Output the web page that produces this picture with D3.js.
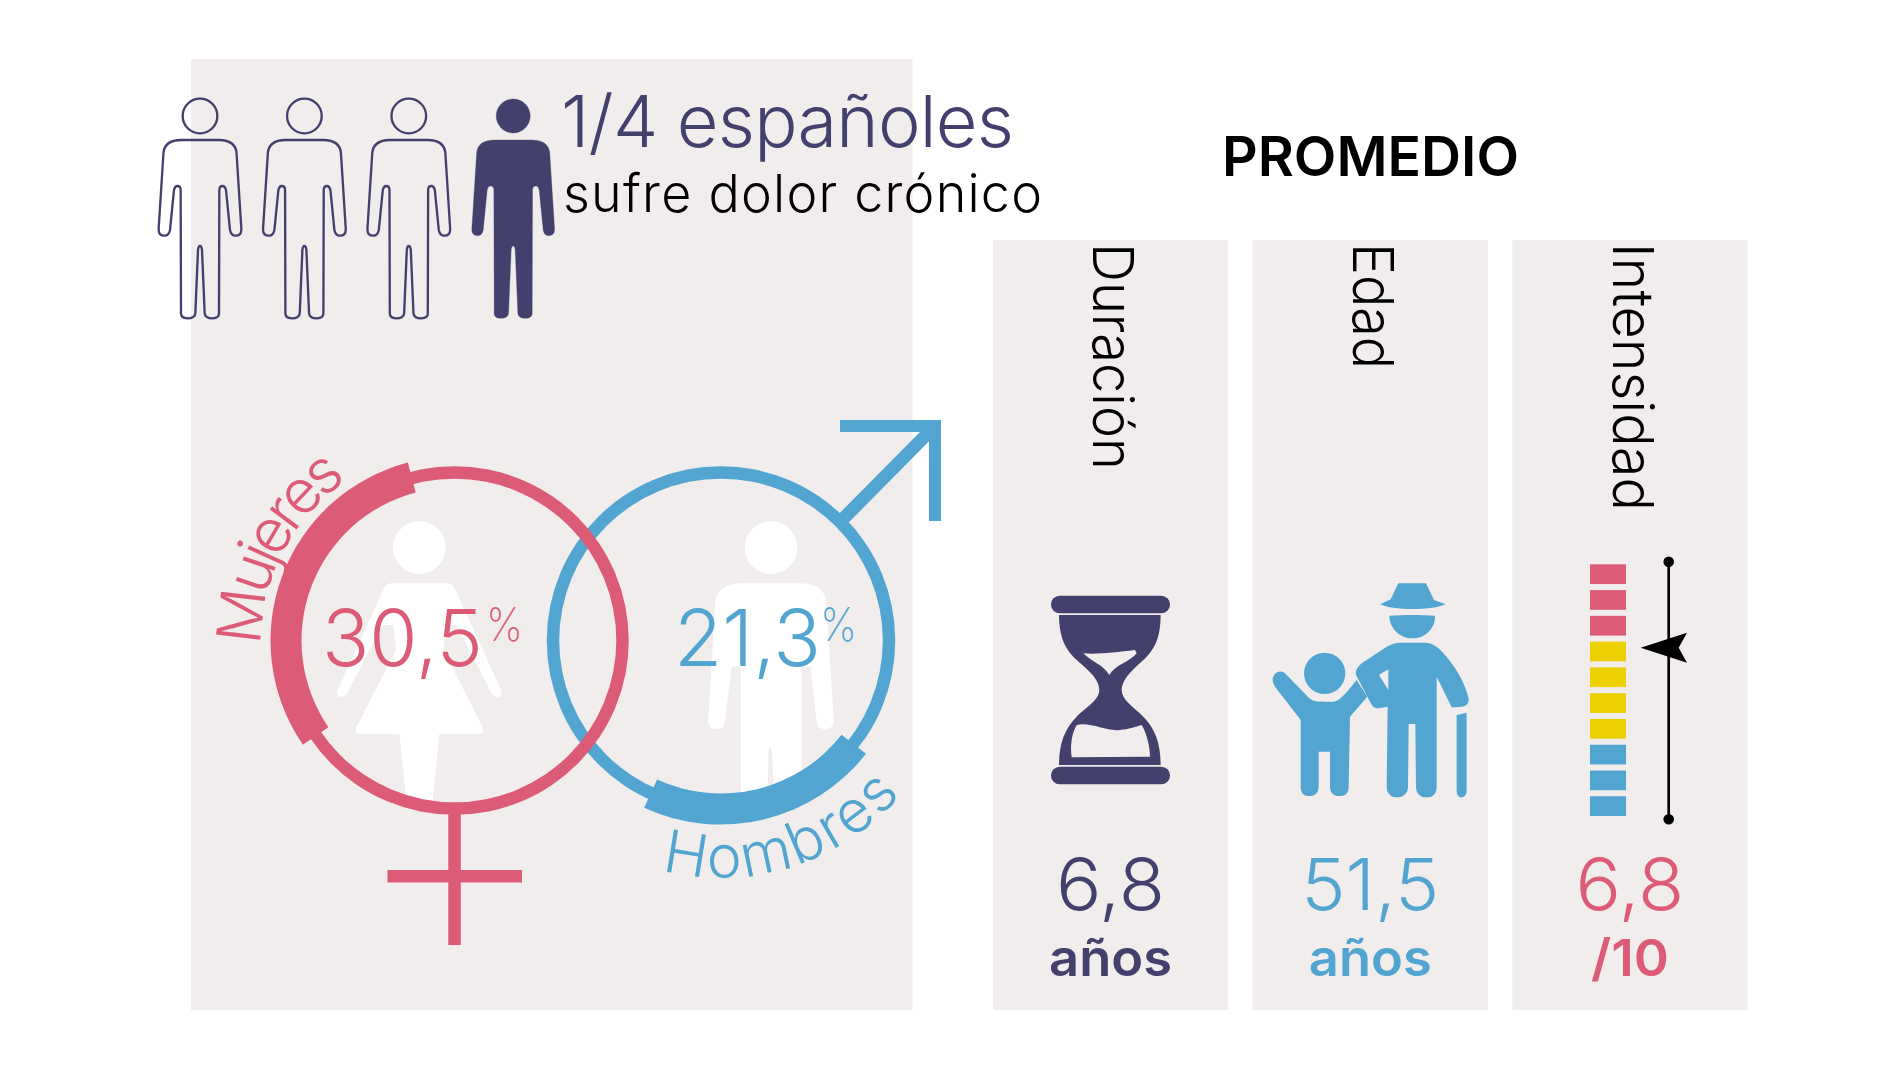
<!DOCTYPE html>
<html><head><meta charset="utf-8">
<script src="https://d3js.org/d3.v7.min.js"></script>
<style>html,body{margin:0;padding:0;background:#fff}svg{display:block}text{font-family:Inter,"Liberation Sans",sans-serif}</style>
</head><body><svg id="c" width="1900" height="1069"></svg>
<script>
// ---- data ----
const people = [1,2,3,4];
const affectedPeople = [4];
const headline = "1/4 españoles";
const subhead = "sufre dolor crónico";
const genderLabels = ["Mujeres","Hombres"];
const genderShares = [30.5,21.3];
const averageTitle = "PROMEDIO";
const averageCategories = ["Duración","Edad","Intensidad"];
const averageValues = [6.8,51.5,6.8];
const averageUnits = ["años","años","/10"];
const intensityLevels = [10,9,8,7,6,5,4,3,2,1];
const intensityThresholds = [4,8];

// ---- style ----
const INK="#44406e", PINK="#dc5c78", BLUE="#52a5d0", YELLOW="#ecd000", PANEL="#f0edec";
const fmt = v => String(v).replace(".",",");
const svg = d3.select("#c");

// ---- panels ----
svg.append("rect").attr("x",191).attr("y",59).attr("width",721.5).attr("height",951).attr("fill",PANEL);
const xPanel = d3.scaleBand().domain(averageCategories).range([993,1747.5]).paddingInner(0.0945);
const inkOf = d3.scaleOrdinal().domain(averageCategories).range([INK,BLUE,PINK]);
svg.selectAll("rect.p").data(averageCategories).join("rect").attr("class","p")
  .attr("x",d=>xPanel(d)).attr("y",240).attr("width",xPanel.bandwidth()).attr("height",770).attr("fill",PANEL);

// ---- people ----
const PERSON="M0,150 L55,150 C85,150 110,160 110,195 L124,415 C125,432 118,437 106,437 C96,437 92,430 90,420 L78,300 C76,292 73,288 68,288 C62,288 58,292 58,300 L57,670 C57,680 50,685 38,685 C22,685 15,680 14,670 L6,480 C5,472 3,468 0,468 C-3,468 -5,472 -6,480 L-14,670 C-15,680 -22,685 -38,685 C-50,685 -57,680 -57,670 L-58,300 C-58,292 -62,288 -68,288 C-73,288 -76,292 -78,300 L-90,420 C-92,430 -96,437 -106,437 C-118,437 -125,432 -124,415 L-110,195 C-110,160 -85,150 -55,150 Z";
const xPerson = d3.scalePoint().domain(people).range([200,513.2]);
const pg = svg.selectAll("g.person").data(people).join("g").attr("class","person")
  .attr("transform",d=>`translate(${xPerson(d)},90) scale(0.3333)`)
  .attr("fill",d=>affectedPeople.includes(d)?INK:"none")
  .attr("stroke",INK).attr("stroke-width",d=>affectedPeople.includes(d)?1:7);
pg.append("circle").attr("cy",78).attr("r",d=>affectedPeople.includes(d)?51:52);
pg.append("path").attr("d",PERSON);

svg.append("text").attr("x",561).attr("y",147).attr("font-size",72).attr("font-weight",300).attr("fill",INK)
  .attr("textLength",453).text(headline);
svg.append("text").attr("x",563).attr("y",212).attr("font-size",52).attr("font-weight",300).attr("fill","#000")
  .attr("textLength",479).text(subhead);

// ---- gender symbols ----
const cy=640.5, cx=[454.5,721], rMid=168, thin=12.5, thick=31;
const startDeg=[-124.5,128];
const toRad=d3.scaleLinear().domain([0,360]).range([0,2*Math.PI]);
const share=d3.scaleLinear().domain([0,100]).range([0,2*Math.PI]);
const defs=svg.append("defs");
cx.forEach((x,i)=>defs.append("clipPath").attr("id","clip"+i).append("circle").attr("cx",x).attr("cy",cy).attr("r",rMid));

// white figures
const FEMALE="M245,220 L415,220 Q428,220 434,234 L574,542 Q580,560 562,561 Q552,561 545,550 L440,345 L408,345 L400,420 L518,652 Q524,672 505,672 L388,672 L365,900 L292,900 L268,672 L152,672 Q133,672 139,652 L258,420 L250,345 L218,345 L110,552 Q104,561 94,561 Q76,560 82,542 L222,234 Q230,220 245,220 Z";
const MALE="M150,220 L335,220 C385,222 408,245 410,285 L431,630 C432,650 422,657 405,657 C390,657 382,650 380,632 L362,470 L335,470 L335,880 L255,880 L245,720 Q241,700 236,720 L232,880 L152,880 L152,470 L125,470 L105,632 C103,650 95,657 80,657 C63,657 53,650 55,630 L75,285 C77,245 100,222 150,220 Z";
const figOrigin=[[310,510],[690,510]], figPath=[FEMALE,MALE], figHead=[[328,113],[243,113]];
[0,1].forEach(i=>{
  const g=svg.append("g").attr("clip-path",`url(#clip${i})`).append("g")
    .attr("transform",`translate(${figOrigin[i][0]},${figOrigin[i][1]}) scale(0.3333)`).attr("fill","#fff");
  g.append("circle").attr("cx",figHead[i][0]).attr("cy",figHead[i][1]).attr("r",79);
  g.append("path").attr("d",figPath[i]);
});

// male arrow + female cross (drawn under rings)
svg.append("path").attr("d","M844,518 L934,427").attr("stroke",BLUE).attr("stroke-width",13).attr("fill","none");
svg.append("path").attr("d","M840,420 H941 V521 H929 V432 H840 Z").attr("fill",BLUE);
svg.append("rect").attr("x",448.3).attr("y",812).attr("width",12.5).attr("height",133).attr("fill",PINK);
svg.append("rect").attr("x",387.5).attr("y",870).attr("width",134.5).attr("height",12.5).attr("fill",PINK);

// rings and share arcs, blue below pink
const ringArc=d3.arc().innerRadius(rMid-thin/2).outerRadius(rMid+thin/2);
const shareArc=d3.arc().innerRadius(rMid-thick/2+.5).outerRadius(rMid+thick/2+.5);
const colors=[PINK,BLUE];
[1,0].forEach(i=>{
  const g=svg.append("g").attr("transform",`translate(${cx[i]},${cy})`).attr("fill",colors[i]);
  g.append("path").attr("d",ringArc({startAngle:0,endAngle:2*Math.PI}));
  const a0=toRad(startDeg[i]);
  g.append("path").attr("d",shareArc({startAngle:a0,endAngle:a0+share(genderShares[i])}));
});

// share numbers
const shareX=[[322,161],[674,147]], pctX=[486,820];
genderShares.forEach((v,i)=>{
  svg.append("text").attr("x",shareX[i][0]).attr("y",666).attr("font-size",79).attr("font-weight",300)
    .attr("fill",colors[i]).attr("textLength",shareX[i][1]).attr("lengthAdjust","spacingAndGlyphs").text(fmt(v));
  svg.append("text").attr("x",pctX[i]).attr("y",641).attr("font-size",46).attr("font-weight",200)
    .attr("fill",colors[i]).attr("textLength",37).attr("lengthAdjust","spacingAndGlyphs").text("%");
});

// curved labels
function polar(c,r,deg){const a=toRad(deg);return [c+r*Math.sin(a),cy-r*Math.cos(a)];}
function arcD(c,r,a0,a1,sweep){const p=polar(c,r,a0),q=polar(c,r,a1);return `M${p[0]},${p[1]} A${r},${r} 0 0 ${sweep} ${q[0]},${q[1]}`;}
defs.append("path").attr("id","pM").attr("d",arcD(cx[0],193,-91.5,-20,1));
defs.append("path").attr("id","pH").attr("d",arcD(cx[1],237,194.5,110,0));
const labelLen=[195,264], labelSize=[61,59];
["#pM","#pH"].forEach((h,i)=>{
  svg.append("text").attr("font-size",labelSize[i]).attr("font-weight",300).attr("fill",colors[i])
    .append("textPath").attr("href",h).attr("textLength",labelLen[i]).attr("lengthAdjust","spacing").text(genderLabels[i]);
});

// ---- PROMEDIO ----
svg.append("text").attr("x",1222).attr("y",176).attr("font-size",55).attr("font-weight",600).attr("fill","#000")
  .attr("textLength",297).attr("lengthAdjust","spacingAndGlyphs").text(averageTitle);
const catLen=[227,126,268], catShift=[99.5,100.5,100.5];
svg.selectAll("text.cat").data(averageCategories).join("text").attr("class","cat")
  .attr("transform",(d,i)=>`translate(${xPanel(d)+catShift[i]},243) rotate(90)`)
  .attr("font-size",56).attr("font-weight",300).attr("fill","#000")
  .attr("textLength",(d,i)=>catLen[i]).attr("lengthAdjust","spacingAndGlyphs").text(d=>d);

// values and units
const valLen=[109,138,109];
svg.selectAll("text.val").data(averageValues).join("text").attr("class","val")
  .attr("x",(d,i)=>xPanel(averageCategories[i])+xPanel.bandwidth()/2).attr("y",910)
  .attr("text-anchor","middle").attr("font-size",72).attr("font-weight",300)
  .attr("fill",(d,i)=>inkOf(averageCategories[i])).attr("textLength",(d,i)=>valLen[i]).attr("lengthAdjust","spacingAndGlyphs").text(fmt);
const unitLen=[123,123,78];
svg.selectAll("text.unit").data(averageUnits).join("text").attr("class","unit")
  .attr("x",(d,i)=>xPanel(averageCategories[i])+xPanel.bandwidth()/2).attr("y",976)
  .attr("text-anchor","middle").attr("font-size",51).attr("font-weight",600)
  .attr("fill",(d,i)=>inkOf(averageCategories[i])).attr("textLength",(d,i)=>unitLen[i]).attr("lengthAdjust","spacingAndGlyphs").text(d=>d);

// ---- hourglass ----
const hg=svg.append("g").attr("transform","translate(1040,590) scale(0.3333)").attr("fill",INK);
hg.append("rect").attr("x",33).attr("y",17).attr("width",357).attr("height",53).attr("rx",26);
hg.append("rect").attr("x",33).attr("y",530).attr("width",357).attr("height",53).attr("rx",26);
hg.append("path").attr("fill-rule","evenodd").attr("d",
 "M57,75 L362,75 C362,130 350,170 320,200 C290,230 247,260 245,300 C245,330 280,350 310,380 C345,415 362,460 362,525 L57,525 C57,460 75,415 110,380 C140,350 178,330 178,300 C178,260 130,230 100,200 C70,170 57,130 57,75 Z "+
 "M130,190 C170,194 230,186 285,180 L290,190 C270,215 225,225 208,255 C190,225 155,215 130,190 Z "+
 "M110,405 C150,395 200,425 240,420 C265,418 285,410 305,405 C320,430 330,470 330,500 L95,502 C90,470 95,430 110,405 Z");

// ---- family ----
const fam=svg.append("g").attr("transform","translate(1270,580) scale(0.3333)").attr("fill",BLUE);
fam.append("path").attr("d","M385,10 L468,10 L492,60 L527,73 C490,92 365,92 331,73 L362,58 Z");
fam.append("path").attr("d","M358,107 C400,104 455,104 495,107 C497,145 465,175 427,175 C390,175 358,145 358,107 Z");
fam.append("path").attr("fill-rule","evenodd").attr("d","M390,188 L470,188 C490,190 510,205 525,225 C560,265 585,310 596,355 C598,375 585,382 560,382 L545,382 L500,290 L500,620 C500,640 490,652 470,652 C450,652 438,640 438,620 L436,432 L416,432 L414,620 C414,640 400,652 382,652 C362,652 350,640 350,620 L353,380 L325,385 C310,385 305,375 300,365 L258,285 C255,270 262,262 275,250 L350,200 C365,192 378,188 390,188 Z M327,285 L355,268 L355,330 Z");
fam.append("path").attr("d","M560,405 L590,398 L590,630 C590,645 582,652 575,652 C565,652 560,645 560,630 Z");
fam.append("circle").attr("cx",164).attr("cy",280).attr("r",62);
fam.append("path").attr("d","M10,310 C0,285 30,260 50,285 L118,355 C130,365 145,365 165,365 L190,365 C205,365 220,350 260,300 L292,350 L240,410 L236,620 C236,640 225,648 208,648 C190,648 180,638 180,620 L180,515 L146,515 L146,620 C146,638 135,648 118,648 C100,648 92,638 92,620 L92,420 L15,320 Z");

// ---- intensity ----
const yLevel=d3.scaleBand().domain(intensityLevels).range([564.3,816]).paddingInner(0.235);
const levelColor=d3.scaleThreshold().domain(intensityThresholds).range([BLUE,YELLOW,PINK]);
svg.selectAll("rect.lvl").data(intensityLevels).join("rect").attr("class","lvl")
  .attr("x",1590).attr("width",36).attr("y",d=>yLevel(d)).attr("height",yLevel.bandwidth()).attr("fill",d=>levelColor(d));
const yInt=d3.scaleLinear().domain([0,10]).range([819.3,561.7]);
const XL=1668.7;
svg.append("line").attr("x1",XL).attr("x2",XL).attr("y1",yInt(0)).attr("y2",yInt(10)).attr("stroke","#000").attr("stroke-width",2.7);
svg.selectAll("circle.end").data([0,10]).join("circle").attr("class","end").attr("cx",XL).attr("cy",d=>yInt(d)).attr("r",5.3).attr("fill","#000");
svg.append("path").attr("transform",`translate(${XL},${yInt(averageValues[2])+3.5})`)
  .attr("d","M-28,0 L18.3,-15 L10,0 L18.3,15 Z").attr("fill","#000");
</script></body></html>
